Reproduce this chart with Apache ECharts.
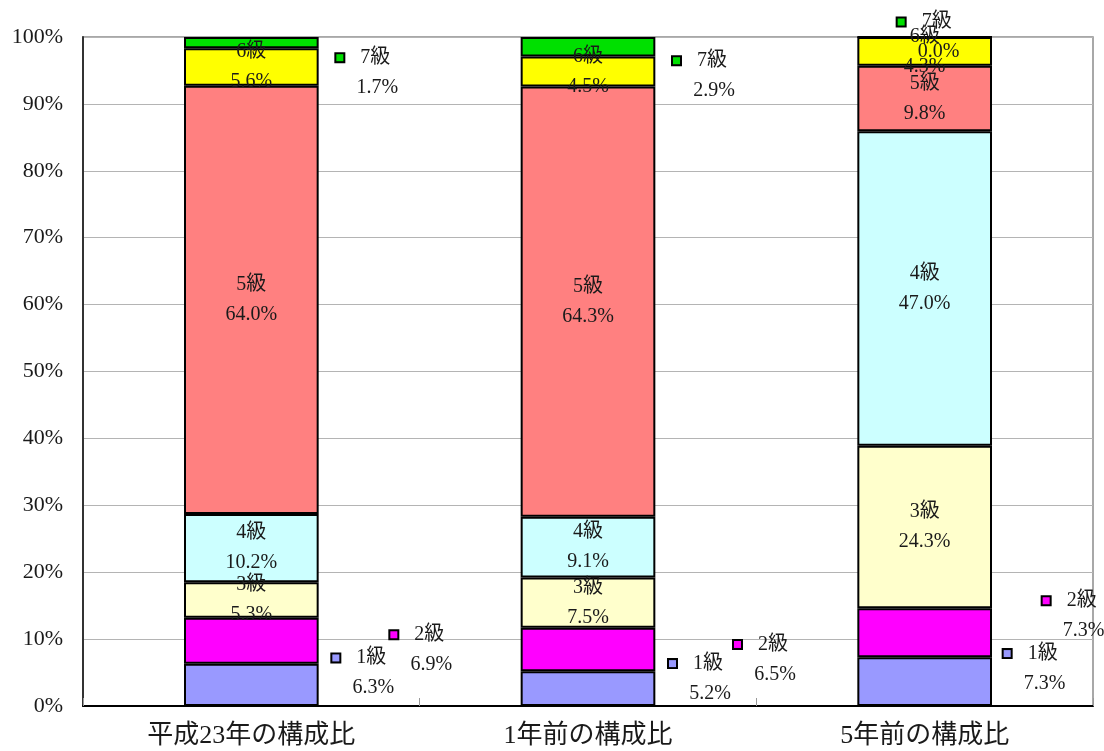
<!DOCTYPE html>
<html>
<head>
<meta charset="utf-8">
<title>構成比</title>
<script src="https://cdn.jsdelivr.net/npm/echarts@6/dist/echarts.min.js"></script>
<style>
  html, body { margin: 0; padding: 0; background: #fff; }
  #main { width: 1104px; height: 751px; }
</style>
</head>
<body>
<div id="main"></div>
<script>
// 区分と等級
var categories = ['平成23年の構成比', '1年前の構成比', '5年前の構成比']
var grades = ['1級', '2級', '3級', '4級', '5級', '6級', '7級']

// 構成比（%）  [平成23年, 1年前, 5年前]
var grade1 = [6.3, 5.2, 7.3]
var grade2 = [6.9, 6.5, 7.3]
var grade3 = [5.3, 7.5, 24.3]
var grade4 = [10.2, 9.1, 47.0]
var grade5 = [64.0, 64.3, 9.8]
var grade6 = [5.6, 4.5, 4.3]
var grade7 = [1.7, 2.9, 0.0]
var gradeValues = [grade1, grade2, grade3, grade4, grade5, grade6, grade7]

var gradeColors = ['#9999ff', '#ff00ff', '#ffffcc', '#ccffff', '#ff8080', '#ffff00', '#00e000']

// 棒の外に出すラベル（凡例マーカー付き）のずらし量
var outsideOffsets = {
  '1級': [[108, -12], [108, -10], [106, -13]],
  '2級': [[166, 9], [173, 10], [145, -17]],
  '7級': [[112, 30], [112, 29], [0, 0]],
}

var FONT = '"Liberation Serif", "Noto Sans CJK JP", serif'
var TEXT = '#1a1a1a'

var chart = echarts.init(document.getElementById('main'))

var series = grades.map(function (g, i) {
  var offs = outsideOffsets[g]
  var label
  if (offs) {
    label = {
      show: true,
      position: 'inside',
      formatter: function (p) {
        return '{sq|}{g|}{n|' + p.seriesName + '}\n{sp|}{v|' + p.value.toFixed(1) + '%}'
      },
      rich: {
        sq: { width: 7, height: 7, backgroundColor: gradeColors[i], borderColor: '#000', borderWidth: 2 },
        g: { width: 17 },
        sp: { width: 28 },
        n: { fontFamily: FONT, fontSize: 20, color: TEXT, lineHeight: 30 },
        v: { fontFamily: FONT, fontSize: 20, color: TEXT, lineHeight: 30 },
      },
    }
  } else {
    label = {
      show: true,
      position: 'inside',
      fontFamily: FONT,
      fontSize: 20,
      lineHeight: 30,
      color: TEXT,
      formatter: function (p) {
        return p.seriesName + '\n' + p.value.toFixed(1) + '%'
      },
    }
  }
  return {
    name: g,
    type: 'bar',
    stack: 'total',
    barWidth: '40%',
    data: gradeValues[i],
    label: label,
    labelLayout: function (p) {
      var o = offs ? offs[p.dataIndex] : [0, 0]
      return { dx: o[0], dy: o[1], hideOverlap: false }
    },
    itemStyle: {
      color: gradeColors[i],
      borderColor: '#000',
      borderWidth: 2,
    },
    emphasis: { disabled: true },
  }
})

var option = {
  animation: false,
  grid: {
    left: 83,
    right: 11,
    top: 37,
    bottom: 45,
    show: true,
    borderColor: '#8c8c8c',
    borderWidth: 1.5,
  },
  xAxis: {
    type: 'category',
    data: categories,
    axisLine: { lineStyle: { color: '#000', width: 2 } },
    axisTick: { show: true, inside: true, length: 8, lineStyle: { color: '#999', width: 1 } },
    axisLabel: { fontFamily: FONT, fontSize: 26, color: TEXT, margin: 17 },
  },
  yAxis: {
    type: 'value',
    min: 0,
    max: 100,
    interval: 10,
    axisLine: { show: true, lineStyle: { color: '#333', width: 2 } },
    axisTick: { show: false },
    axisLabel: { fontFamily: FONT, fontSize: 22, color: TEXT, margin: 20, formatter: '{value}%' },
    splitLine: { lineStyle: { color: '#b4b4b4', width: 1 } },
  },
  series: series,
}
chart.setOption(option)
</script>
</body>
</html>
